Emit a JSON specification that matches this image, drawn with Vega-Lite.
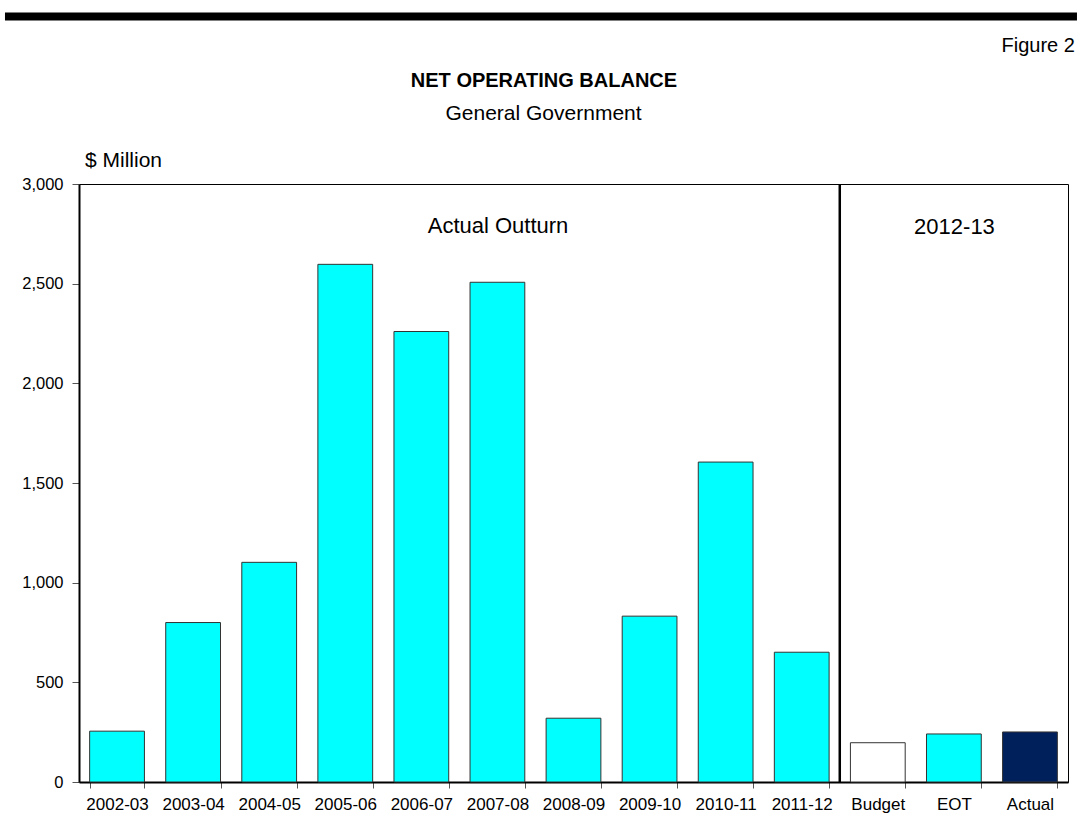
{
  "$schema": "https://vega.github.io/schema/vega-lite/v6.json",
  "autosize": {"type": "none"},
  "width": 989,
  "height": 598,
  "padding": {"left": 79, "top": 184, "right": 9, "bottom": 54},
  "background": "white",
  "config": {
    "font": "Liberation Sans",
    "view": {"stroke": "#000000", "strokeWidth": 1},
    "axis": {"labelFont": "Liberation Sans", "labelColor": "#000000", "grid": false}
  },
  "datasets": {
    "bars": [
      {"period": "2002-03", "value": 255, "series": "history"},
      {"period": "2003-04", "value": 800, "series": "history"},
      {"period": "2004-05", "value": 1102, "series": "history"},
      {"period": "2005-06", "value": 2597, "series": "history"},
      {"period": "2006-07", "value": 2260, "series": "history"},
      {"period": "2007-08", "value": 2507, "series": "history"},
      {"period": "2008-09", "value": 320, "series": "history"},
      {"period": "2009-10", "value": 832, "series": "history"},
      {"period": "2010-11", "value": 1605, "series": "history"},
      {"period": "2011-12", "value": 651, "series": "history"},
      {"period": "Budget", "value": 197, "series": "budget"},
      {"period": "EOT", "value": 241, "series": "eot"},
      {"period": "Actual", "value": 251, "series": "actual"}
    ],
    "single": [{"note": "annotation"}]
  },
  "resolve": {"scale": {"x": "independent"}, "axis": {"x": "independent"}},
  "layer": [
    {
      "data": {"name": "bars"},
      "mark": {"type": "bar", "stroke": "#333333", "strokeWidth": 1},
      "encoding": {
        "x": {
          "field": "period",
          "type": "nominal",
          "sort": null,
          "scale": {"paddingInner": 0.28, "paddingOuter": 0.14},
          "axis": {
            "title": null,
            "labelAngle": 0,
            "labelFontSize": 17,
            "labelPadding": 8,
            "tickBand": "extent",
            "tickSize": 6,
            "tickColor": "#555555",
            "domainColor": "#000000",
            "domainWidth": 2
          }
        },
        "y": {
          "field": "value",
          "type": "quantitative",
          "scale": {"domain": [0, 3000], "nice": false},
          "axis": {
            "title": null,
            "values": [0, 500, 1000, 1500, 2000, 2500, 3000],
            "format": ",d",
            "labelFontSize": 16.5,
            "tickSize": 7,
            "labelPadding": 9,
            "tickColor": "#555555",
            "domainColor": "#000000",
            "domainWidth": 2
          }
        },
        "color": {
          "field": "series",
          "type": "nominal",
          "scale": {"domain": ["history", "budget", "eot", "actual"], "range": ["#00FFFF", "#FFFFFF", "#00FFFF", "#00205B"]},
          "legend": null
        }
      }
    },
    {
      "data": {"name": "single"},
      "mark": {"type": "rule", "color": "#000000", "strokeWidth": 2.5},
      "encoding": {
        "x": {"datum": 10, "type": "quantitative", "scale": {"domain": [0, 13], "nice": false, "zero": false}, "axis": null},
        "y": {"datum": 0},
        "y2": {"datum": 3000}
      }
    },
    {
      "data": {"name": "single"},
      "mark": {"type": "rule", "color": "#000000", "strokeWidth": 8},
      "encoding": {
        "x": {"datum": -0.973, "type": "quantitative", "scale": {"domain": [0, 13], "nice": false, "zero": false}, "axis": null},
        "x2": {"datum": 13.118},
        "y": {"datum": 3840}
      }
    },
    {
      "data": {"name": "single"},
      "mark": {"type": "text", "text": "Figure 2", "align": "right", "baseline": "alphabetic", "fontSize": 20, "font": "Liberation Sans", "fill": "#000000"},
      "encoding": {
        "x": {"datum": 13.09, "type": "quantitative", "scale": {"domain": [0, 13], "nice": false, "zero": false}, "axis": null},
        "y": {"datum": 3662}
      }
    },
    {
      "data": {"name": "single"},
      "mark": {"type": "text", "text": "NET OPERATING BALANCE", "align": "center", "baseline": "alphabetic", "fontSize": 20, "fontWeight": "bold", "font": "Liberation Sans", "fill": "#000000"},
      "encoding": {
        "x": {"datum": 6.112, "type": "quantitative", "scale": {"domain": [0, 13], "nice": false, "zero": false}, "axis": null},
        "y": {"datum": 3487}
      }
    },
    {
      "data": {"name": "single"},
      "mark": {"type": "text", "text": "General Government", "align": "center", "baseline": "alphabetic", "fontSize": 21, "font": "Liberation Sans", "fill": "#000000"},
      "encoding": {
        "x": {"datum": 6.106, "type": "quantitative", "scale": {"domain": [0, 13], "nice": false, "zero": false}, "axis": null},
        "y": {"datum": 3321}
      }
    },
    {
      "data": {"name": "single"},
      "mark": {"type": "text", "text": "$ Million", "align": "left", "baseline": "alphabetic", "fontSize": 21, "font": "Liberation Sans", "fill": "#000000"},
      "encoding": {
        "x": {"datum": 0.079, "type": "quantitative", "scale": {"domain": [0, 13], "nice": false, "zero": false}, "axis": null},
        "y": {"datum": 3085}
      }
    },
    {
      "data": {"name": "single"},
      "mark": {"type": "text", "text": "Actual Outturn", "align": "center", "baseline": "alphabetic", "fontSize": 22, "font": "Liberation Sans", "fill": "#000000"},
      "encoding": {
        "x": {"datum": 5.508, "type": "quantitative", "scale": {"domain": [0, 13], "nice": false, "zero": false}, "axis": null},
        "y": {"datum": 2754}
      }
    },
    {
      "data": {"name": "single"},
      "mark": {"type": "text", "text": "2012-13", "align": "center", "baseline": "alphabetic", "fontSize": 22, "font": "Liberation Sans", "fill": "#000000"},
      "encoding": {
        "x": {"datum": 11.508, "type": "quantitative", "scale": {"domain": [0, 13], "nice": false, "zero": false}, "axis": null},
        "y": {"datum": 2749}
      }
    }
  ]
}
